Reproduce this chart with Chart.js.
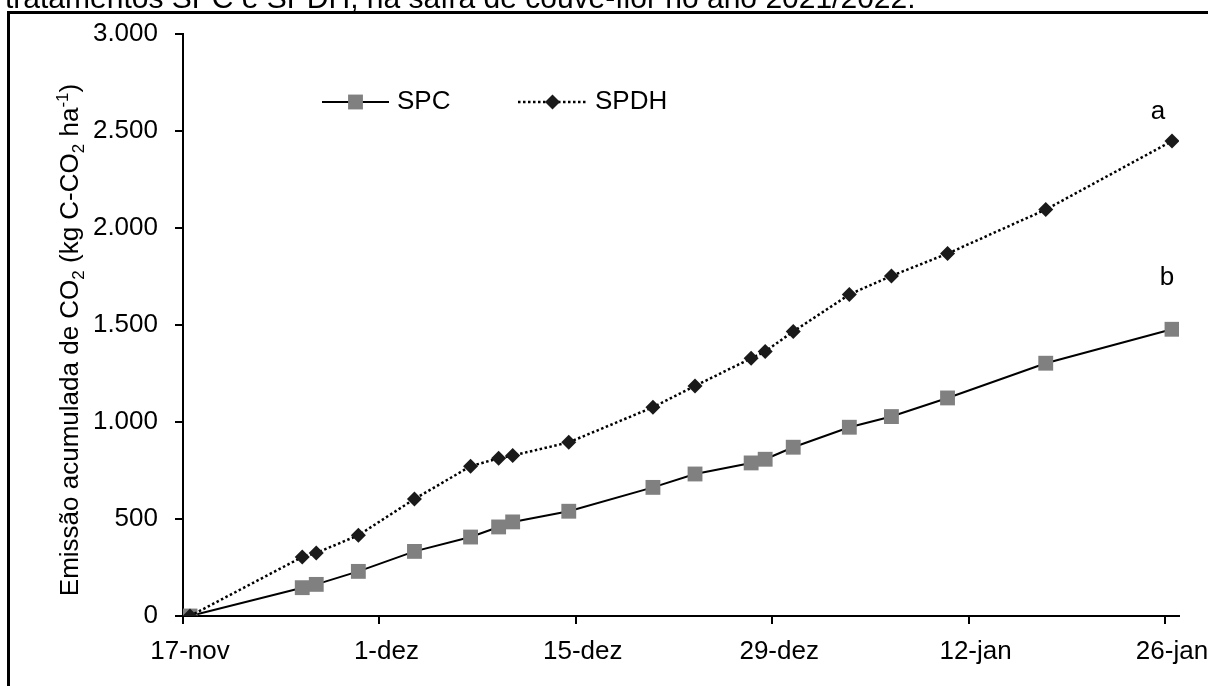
<!DOCTYPE html>
<html lang="pt-BR">
<head>
<meta charset="utf-8">
<title>Emissão acumulada de CO2 - SPC x SPDH</title>
<script src="https://cdn.jsdelivr.net/npm/chart.js@4.4.1/dist/chart.umd.min.js"></script>
<style>
  html, body { margin: 0; padding: 0; background: #fff; }
  #emissionChart { display: block; }
</style>
</head>
<body>
<canvas id="emissionChart" width="1208" height="686"></canvas>
<script>
/* Cumulative CO2 emission, SPC vs SPDH */

// days after 17-nov on which the chambers were read
const days = [0, 8, 9, 12, 16, 20, 22, 23, 27, 33, 36, 40, 41, 43, 47, 50, 54, 61, 70];

// kg C-CO2 per ha, accumulated
const spcValues = [0, 146, 163, 230, 333, 407, 459, 485, 540, 663, 732, 789, 808, 870, 973, 1028, 1124, 1303, 1478];
const spdhValues = [0, 304, 325, 416, 603, 772, 813, 827, 895, 1076, 1186, 1328, 1364, 1466, 1657, 1753, 1868, 2095, 2448];

const xTickLabels = ['17-nov', '1-dez', '15-dez', '29-dez', '12-jan', '26-jan'];
const seriesNames = ['SPC', 'SPDH'];
const groupLetters = ['b', 'a'];

const caption = 'tratamentos SPC e SPDH, na safra de couve-flor no ano 2021/2022.';

const FONT = '"Liberation Sans", Arial, sans-serif';
Chart.defaults.font.family = FONT;
Chart.defaults.font.size = 26;
Chart.defaults.color = '#000';

function formatThousands(v) {
    return String(v).replace(/\B(?=(\d{3})+(?!\d))/g, '.');
}

// points sit in the middle of their day (axis drawn "between tick marks")
function toPoints(values) {
    return days.map((d, i) => ({ x: d + 0.5, y: values[i] }));
}

// rotated axis title with the sub/superscripts
function drawYTitle(ctx, x, y) {
    const parts = [
        { t: 'Emissão acumulada de CO' },
        { t: '2', sub: true },
        { t: ' (kg C-CO' },
        { t: '2', sub: true },
        { t: ' ha' },
        { t: '-1', sup: true },
        { t: ')' }
    ];
    const big = `26px ${FONT}`;
    const small = `17px ${FONT}`;
    let total = 0;
    parts.forEach(p => {
        ctx.font = (p.sub || p.sup) ? small : big;
        p.w = ctx.measureText(p.t).width;
        total += p.w;
    });
    ctx.save();
    ctx.translate(x, y);
    ctx.rotate(-Math.PI / 2);
    ctx.textAlign = 'left';
    ctx.textBaseline = 'alphabetic';
    let cx = -total / 2;
    parts.forEach(p => {
        ctx.font = (p.sub || p.sup) ? small : big;
        const dy = p.sub ? 6 : (p.sup ? -10 : 0);
        ctx.fillText(p.t, cx, dy);
        cx += p.w;
    });
    ctx.restore();
}

function drawLegendItem(ctx, ds, x0, x1, textX, y) {
    ctx.save();
    ctx.strokeStyle = ds.borderColor;
    ctx.lineWidth = ds.borderWidth;
    ctx.setLineDash(ds.borderDash || []);
    ctx.beginPath();
    ctx.moveTo(x0, y);
    ctx.lineTo(x1, y);
    ctx.stroke();
    ctx.setLineDash([]);
    ctx.fillStyle = ds.pointBackgroundColor;
    Chart.helpers.drawPoint(ctx, {
        pointStyle: ds.pointStyle,
        radius: ds.pointRadius,
        rotation: 0,
        borderWidth: 0
    }, (x0 + x1) / 2, y);
    ctx.fillStyle = '#000';
    ctx.font = `26px ${FONT}`;
    ctx.textAlign = 'left';
    ctx.textBaseline = 'middle';
    ctx.fillText(ds.label, textX, y);
    ctx.restore();
}

const decorations = {
    id: 'decorations',
    afterDraw(chart) {
        const { ctx } = chart;
        const x = chart.scales.x;
        const y = chart.scales.y;
        ctx.save();

        // caption above the frame
        ctx.fillStyle = '#000';
        ctx.font = `30px ${FONT}`;
        ctx.textAlign = 'left';
        ctx.textBaseline = 'alphabetic';
        ctx.fillText(caption, 5, 8);

        // frame
        ctx.fillRect(7, 11, chart.width - 7, 3);
        ctx.fillRect(7, 11, 3, chart.height - 11);

        drawYTitle(ctx, 78, 340);

        // legend
        const sets = chart.data.datasets;
        drawLegendItem(ctx, sets[0], 322, 389, 397, 102);
        drawLegendItem(ctx, sets[1], 518, 587, 595, 102);

        // significance letters at the last reading
        ctx.font = `26px ${FONT}`;
        ctx.textAlign = 'center';
        ctx.textBaseline = 'alphabetic';
        const lastX = x.getPixelForValue(days[days.length - 1]);
        ctx.fillText(groupLetters[1], lastX - 7, y.getPixelForValue(spdhValues[spdhValues.length - 1]) - 22);
        ctx.fillText(groupLetters[0], lastX + 2, y.getPixelForValue(spcValues[spcValues.length - 1]) - 44);

        ctx.restore();
    }
};

const ctx = document.getElementById('emissionChart').getContext('2d');

const chart = new Chart(ctx, {
    type: 'line',
    data: {
        datasets: [
            {
                label: seriesNames[0],
                data: toPoints(spcValues),
                borderColor: '#000',
                borderWidth: 2,
                pointStyle: 'rect',
                pointRadius: 10.5,
                pointBackgroundColor: '#808080',
                pointBorderWidth: 0,
                tension: 0,
                order: 1
            },
            {
                label: seriesNames[1],
                data: toPoints(spdhValues),
                borderColor: '#000',
                borderWidth: 2.5,
                borderDash: [2.5, 2.5],
                pointStyle: 'rectRot',
                pointRadius: 7.5,
                pointBackgroundColor: '#1a1a1a',
                pointBorderWidth: 0,
                tension: 0,
                order: 0
            }
        ]
    },
    options: {
        responsive: false,
        animation: false,
        events: [],
        layout: { padding: { top: 34, right: 29, left: 0, bottom: 0 } },
        plugins: {
            legend: { display: false },
            tooltip: { enabled: false }
        },
        scales: {
            x: {
                type: 'linear',
                min: 0,
                max: 71,
                afterBuildTicks: axis => {
                    axis.ticks = xTickLabels.map((_, i) => ({ value: i * 14 }));
                },
                afterFit: axis => {
                    axis.height = 70;
                    axis.paddingLeft = 0;
                    axis.paddingRight = 0;
                },
                ticks: {
                    callback: value => xTickLabels[value / 14],
                    labelOffset: 7,
                    padding: 12,
                    maxRotation: 0,
                    autoSkip: false
                },
                grid: { drawOnChartArea: false, tickLength: 8, color: '#000', lineWidth: 2 },
                border: { color: '#000', width: 2 }
            },
            y: {
                min: 0,
                max: 3000,
                afterFit: axis => {
                    axis.width = 183;
                },
                ticks: {
                    stepSize: 500,
                    padding: 17,
                    callback: value => formatThousands(value)
                },
                grid: { drawOnChartArea: false, tickLength: 8, color: '#000', lineWidth: 2 },
                border: { color: '#000', width: 2 }
            }
        }
    },
    plugins: [decorations]
});
</script>
</body>
</html>
